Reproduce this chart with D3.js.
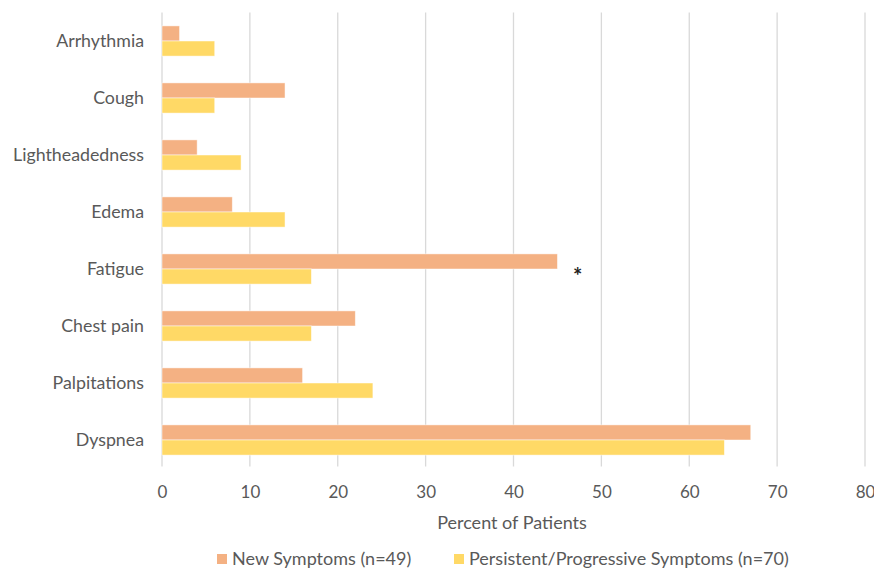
<!DOCTYPE html>
<html>
<head>
<meta charset="utf-8">
<script src="https://cdn.jsdelivr.net/npm/d3@7"></script>
<style>
  body { margin: 0; background: #fff; }
  text { font-family: Lato, "Open Sans", sans-serif; fill: #595959; }
</style>
</head>
<body>
<svg width="874" height="571"></svg>
<script>
// data
const categories = ['Arrhythmia', 'Cough', 'Lightheadedness', 'Edema', 'Fatigue', 'Chest pain', 'Palpitations', 'Dyspnea'];
const newSymptoms = [2, 14, 4, 8, 45, 22, 16, 67];
const persistentSymptoms = [6, 6, 9, 14, 17, 17, 24, 64];
const seriesNames = ['New Symptoms (n=49)', 'Persistent/Progressive Symptoms (n=70)'];
const xTicks = [0, 10, 20, 30, 40, 50, 60, 70, 80];
const colors = ['#F4B183', '#FFD966'];

const svg = d3.select('svg');
const plotLeft = 162, plotRight = 865, plotTop = 12.5, plotBottom = 468.5;

const x = d3.scaleLinear().domain([0, 80]).range([plotLeft, plotRight]);
const y = d3.scaleBand().domain(categories).range([plotTop, plotBottom]).paddingInner(0.47).paddingOuter(0.235);
const sub = d3.scaleBand().domain([0, 1]).range([0, y.bandwidth()]);

/* gridlines */
svg.append('g')
  .selectAll('line')
  .data(xTicks)
  .enter()
  .append('line')
  .attr('x1', d => x(d)).attr('x2', d => x(d))
  .attr('y1', plotTop).attr('y2', plotBottom - 2)
  .attr('stroke', '#d9d9d9')
  .attr('stroke-width', 1.3);

/* bars */
const rows = categories.map((c, i) => ({ c, v: [newSymptoms[i], persistentSymptoms[i]] }));
const groups = svg.append('g')
  .selectAll('g')
  .data(rows)
  .enter()
  .append('g')
  .attr('transform', d => `translate(0, ${y(d.c)})`);

groups.selectAll('rect')
  .data(d => d.v)
  .enter()
  .append('rect')
  .attr('x', x(0))
  .attr('y', (d, i) => sub(i))
  .attr('width', d => x(d) - x(0))
  .attr('height', sub.bandwidth())
  .attr('fill', (d, i) => colors[i])
  .attr('stroke', '#fff')
  .attr('stroke-opacity', 0.6)
  .attr('stroke-width', 0.8);

/* y axis labels */
const yAxis = d3.axisLeft(y).tickSize(0).tickPadding(18);
svg.append('g')
  .attr('transform', `translate(${plotLeft}, 0)`)
  .call(yAxis)
  .call(g => g.select('.domain').remove())
  .selectAll('text')
  .style('font-size', '17.8px')
  .style('font-family', 'Lato, sans-serif')
  .attr('fill', '#595959');

/* x axis labels */
const xAxis = d3.axisBottom(x).tickValues(xTicks).tickSize(0).tickPadding(17);
svg.append('g')
  .attr('transform', `translate(0, ${plotBottom})`)
  .call(xAxis)
  .call(g => g.select('.domain').remove())
  .selectAll('text')
  .style('font-size', '17px')
  .style('font-family', 'Lato, sans-serif')
  .attr('fill', '#595959');

/* axis title */
svg.append('text')
  .attr('x', 512)
  .attr('y', 529)
  .attr('text-anchor', 'middle')
  .style('font-size', '18px')
  .text('Percent of Patients');

/* significance mark */
svg.append('text')
  .attr('x', x(47.3))
  .attr('y', y('Fatigue') + y.bandwidth() / 2 + 15)
  .attr('text-anchor', 'middle')
  .style('font-size', '22px')
  .style('font-weight', 'bold')
  .style('fill', '#222')
  .text('*');

/* legend */
const legendX = [217, 454];
const legend = svg.append('g')
  .selectAll('g')
  .data(seriesNames)
  .enter()
  .append('g')
  .attr('transform', (d, i) => `translate(${legendX[i]}, 555)`);

legend.append('rect')
  .attr('width', 10).attr('height', 10)
  .attr('y', -1)
  .attr('fill', (d, i) => colors[i]);

legend.append('text')
  .attr('x', 15)
  .attr('y', 10)
  .style('font-size', '18px')
  .text(d => d);
</script>
</body>
</html>
